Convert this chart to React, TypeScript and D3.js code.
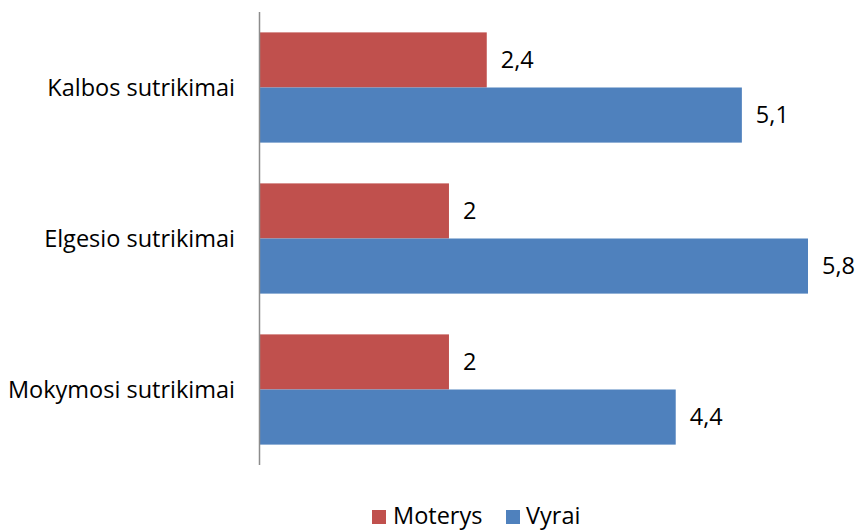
import React from "react";
import * as d3 from "d3";

const categories = ["Kalbos sutrikimai", "Elgesio sutrikimai", "Mokymosi sutrikimai"];
const seriesNames = ["Moterys", "Vyrai"];
const moterys = [2.4, 2, 2];
const vyrai = [5.1, 5.8, 4.4];
const colors = ["#C0504D", "#4F81BD"];

const W = 859;
const H = 530;
const FONT = "'Open Sans', sans-serif";
const FS = 23.5;

export default function App() {
  const x = d3.scaleLinear().domain([0, 5.8]).range([260, 808]);
  const y = d3.scaleBand<string>().domain(categories).range([12, 465]).paddingInner(0.27).paddingOuter(0.135);
  const inner = d3.scaleBand<string>().domain(seriesNames).range([0, y.bandwidth()]);
  const fmt = (v: number) => String(v).replace(".", ",");
  const series = [moterys, vyrai];

  return (
    <svg width={W} height={H} style={{ position: "absolute", left: 0, top: 0, background: "#fff" }} fontFamily={FONT}>
      {categories.map((c, i) => (
        <g key={c}>
          {series.map((s, j) => {
            const yy = (y(c) as number) + (inner(seriesNames[j]) as number);
            const h = inner.bandwidth();
            return (
              <g key={j}>
                <rect x={x(0)} y={yy} width={x(s[i]) - x(0)} height={h} fill={colors[j]} />
                <text x={x(s[i]) + 14} y={yy + h / 2} dy="0.35em" fontSize={FS} fill="#000">
                  {fmt(s[i])}
                </text>
              </g>
            );
          })}
          <text x={235} y={(y(c) as number) + y.bandwidth() / 2} dy="0.35em" textAnchor="end" fontSize={FS} fill="#000">
            {c}
          </text>
        </g>
      ))}
      <line x1={259.5} x2={259.5} y1={12} y2={465} stroke="#8c8c8c" strokeWidth={1.5} />
      <g>
        <rect x={372} y={510} width={14} height={14} fill={colors[0]} />
        <text x={393} y={524} fontSize={FS} fill="#000">{seriesNames[0]}</text>
        <rect x={506} y={510} width={14} height={14} fill={colors[1]} />
        <text x={526} y={524} fontSize={FS} fill="#000">{seriesNames[1]}</text>
      </g>
    </svg>
  );
}
